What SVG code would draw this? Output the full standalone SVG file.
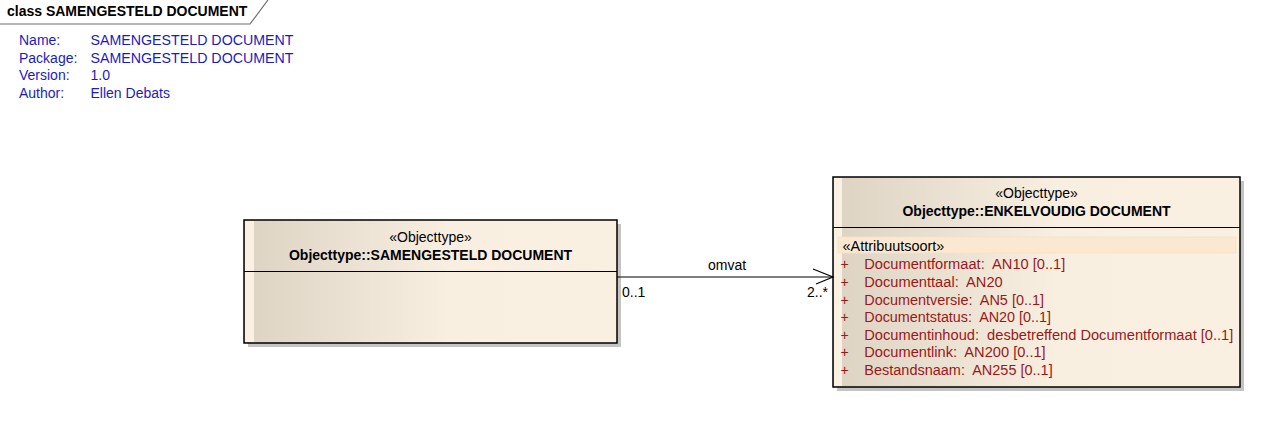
<svg xmlns="http://www.w3.org/2000/svg" width="1261" height="429" viewBox="0 0 1261 429">
<style>
text{font-family:"Liberation Sans",Arial,sans-serif;font-size:14px;white-space:pre}
.b{font-weight:bold}
.meta{fill:#1c1cbc}
.attr{fill:#9a1818}
.blk{fill:#000}
.box{stroke:#000;stroke-width:1.5}
.sh{fill:#c4c4c4}
.div{stroke:#000;stroke-width:1.2}
.strip{fill:#fbf1e3}
</style>
<defs>
<linearGradient id="g1" x1="0" y1="0" x2="1" y2="0">
<stop offset="0" stop-color="#ddd3c3"/>
<stop offset="0.55" stop-color="#f9efe1"/>
<stop offset="1" stop-color="#faf0e2"/>
</linearGradient>
</defs>
<rect width="1261" height="429" fill="#fff"/>
<g id="frame">
<polyline points="0,24 250,24 268,0" fill="none" stroke="#6e6e6e" stroke-width="1.2"/>
<text x="7" y="16" class="b blk">class SAMENGESTELD DOCUMENT</text>
</g>
<g id="metadata" class="meta">
<text x="19" y="45">Name:</text><text x="90.5" y="45" textLength="203" lengthAdjust="spacingAndGlyphs">SAMENGESTELD DOCUMENT</text>
<text x="19" y="62.7">Package:</text><text x="90.5" y="62.7" textLength="203" lengthAdjust="spacingAndGlyphs">SAMENGESTELD DOCUMENT</text>
<text x="19" y="80.4">Version:</text><text x="90.5" y="80.4">1.0</text>
<text x="19" y="98">Author:</text><text x="90.5" y="98">Ellen Debats</text>
</g>
<g id="node-samengesteld">
<rect x="248" y="224" width="373" height="123" class="sh"/>
<rect x="244" y="220" width="373" height="123" fill="url(#g1)"/>
<rect x="245" y="221" width="9" height="121" class="strip"/>
<rect x="244" y="220" width="373" height="123" fill="none" class="box"/>
<line x1="244" y1="271.5" x2="617" y2="271.5" class="div"/>
<text x="430.5" y="241.5" text-anchor="middle" class="blk">«Objecttype»</text>
<text x="430.5" y="260" text-anchor="middle" class="b blk">Objecttype::SAMENGESTELD DOCUMENT</text>
</g>
<g id="node-enkelvoudig">
<rect x="837" y="181" width="407" height="210" class="sh"/>
<rect x="833" y="177" width="407" height="210" fill="url(#g1)"/>
<rect x="834" y="178" width="8" height="208" class="strip"/>
<rect x="833" y="177" width="407" height="210" fill="none" class="box"/>
<line x1="833" y1="227.5" x2="1240" y2="227.5" class="div"/>
<text x="1036.5" y="197.5" text-anchor="middle" class="blk">«Objecttype»</text>
<text x="1036.5" y="216" text-anchor="middle" class="b blk">Objecttype::ENKELVOUDIG DOCUMENT</text>
<rect x="838" y="237" width="398" height="16" fill="#fbe8d0" stroke="#f6e2c8" stroke-width="0.8"/>
<text x="842.5" y="250.5" class="blk" textLength="101.8" lengthAdjust="spacingAndGlyphs">«Attribuutsoort»</text>
<g class="attr">
<text x="840.5" y="269.3">+</text><text x="864.3" y="269.3" textLength="201" lengthAdjust="spacingAndGlyphs">Documentformaat:  AN10 [0..1]</text>
<text x="840.5" y="286.9">+</text><text x="864.3" y="286.9" textLength="138.4" lengthAdjust="spacingAndGlyphs">Documenttaal:  AN20</text>
<text x="840.5" y="304.5">+</text><text x="864.3" y="304.5" textLength="179.7" lengthAdjust="spacingAndGlyphs">Documentversie:  AN5 [0..1]</text>
<text x="840.5" y="322.1">+</text><text x="864.3" y="322.1" textLength="186.7" lengthAdjust="spacingAndGlyphs">Documentstatus:  AN20 [0..1]</text>
<text x="840.5" y="339.7">+</text><text x="864.3" y="339.7" textLength="369" lengthAdjust="spacingAndGlyphs">Documentinhoud:  desbetreffend Documentformaat [0..1]</text>
<text x="840.5" y="357.3">+</text><text x="864.3" y="357.3" textLength="181.4" lengthAdjust="spacingAndGlyphs">Documentlink:  AN200 [0..1]</text>
<text x="840.5" y="374.9">+</text><text x="864.3" y="374.9" textLength="188.4" lengthAdjust="spacingAndGlyphs">Bestandsnaam:  AN255 [0..1]</text>
</g>
</g>
<g id="connectors">
<line x1="617" y1="277" x2="833" y2="277" stroke="#000" stroke-width="1.2"/>
<polyline points="813,269 833,277 816,284" fill="none" stroke="#000" stroke-width="1.2"/>
<text x="727" y="270" text-anchor="middle" class="blk">omvat</text>
<text x="622" y="296.5" class="blk">0..1</text>
<text x="828" y="296.5" text-anchor="end" class="blk">2..*</text>
</g>
</svg>
